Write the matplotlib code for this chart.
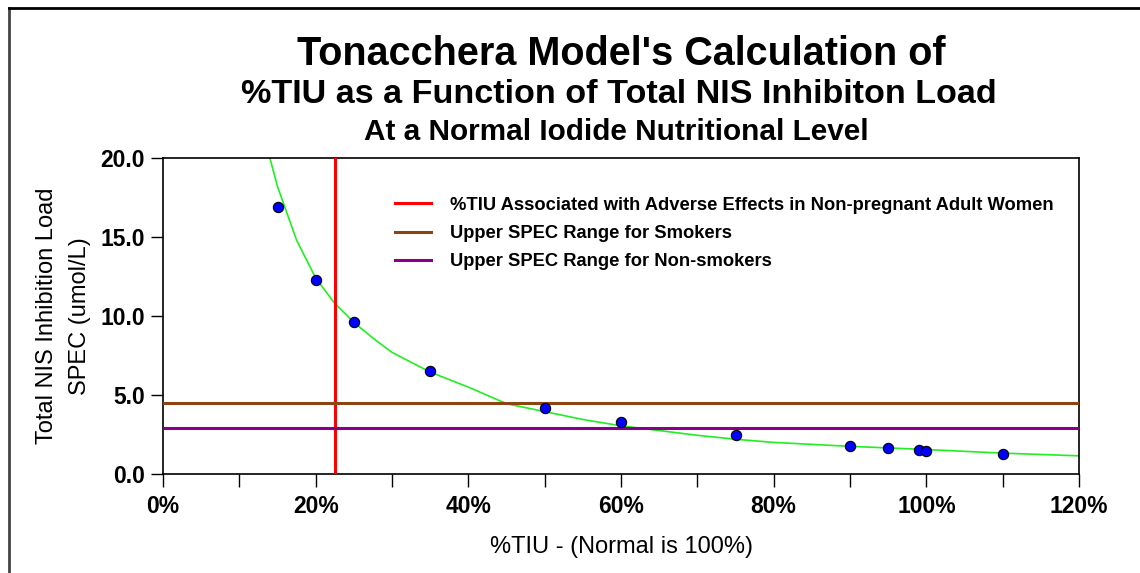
import matplotlib
matplotlib.use("Agg")
import matplotlib.pyplot as plt
from matplotlib.lines import Line2D
from matplotlib.ticker import FuncFormatter, MultipleLocator

# model points (%TIU, SPEC umol/L)
tiu_pts = [15, 20, 25, 35, 50, 60, 75, 90, 95, 99, 100, 110]
spec_pts = [16.9, 12.3, 9.65, 6.5, 4.2, 3.3, 2.45, 1.8, 1.65, 1.5, 1.45, 1.25]

# fitted curve
curve_x = [14, 15, 17.5, 20, 22.5, 25, 27.5, 30, 35, 40, 45, 50, 55, 60, 65, 70, 75, 80, 90, 100, 110, 120]
curve_y = [20.0, 18.2, 14.8, 12.4, 10.8, 9.6, 8.6, 7.7, 6.45, 5.5, 4.45, 3.95, 3.45, 3.05, 2.75, 2.45, 2.2, 2.0, 1.75, 1.55, 1.32, 1.15]

adverse_tiu = 22.5
smokers_spec = 4.5
nonsmokers_spec = 2.9

labels = ["%TIU Associated with Adverse Effects in Non-pregnant Adult Women",
          "Upper SPEC Range for Smokers",
          "Upper SPEC Range for Non-smokers"]
colors = ["#ff0000", "#8b4513", "#880088"]

plt.rcParams['font.family'] = ['Liberation Sans', 'DejaVu Sans']

fig = plt.figure(figsize=(11.4, 5.73), dpi=100)
ax = fig.add_axes([163/1140, 1-474/573, (1079-163)/1140, (474-158)/573])

ax.plot(curve_x, curve_y, color="#22ee22", lw=1.2, zorder=2)
ax.axvline(adverse_tiu, color=colors[0], lw=2.2, zorder=3)
ax.axhline(smokers_spec, color=colors[1], lw=2.2, zorder=3)
ax.axhline(nonsmokers_spec, color=colors[2], lw=2.2, zorder=3)
ax.scatter(tiu_pts, spec_pts, s=55, color="#0000ff", edgecolor="black", lw=0.8, zorder=4)

ax.set_xlim(0, 120)
ax.set_ylim(0, 20)
ax.xaxis.set_major_locator(MultipleLocator(20))
ax.xaxis.set_minor_locator(MultipleLocator(10))
ax.yaxis.set_major_locator(MultipleLocator(5))
ax.xaxis.set_major_formatter(FuncFormatter(lambda v, p: "%d%%" % v))
ax.yaxis.set_major_formatter(FuncFormatter(lambda v, p: "%.1f" % v))
ax.tick_params(which="both", direction="out", length=9, width=1, labelsize=16.5)
ax.tick_params(axis="x", pad=6)
ax.tick_params(axis="y", pad=4)
for lab in ax.get_xticklabels() + ax.get_yticklabels():
    lab.set_fontweight("bold")
for s in ax.spines.values():
    s.set_linewidth(1.2)

ax.set_xlabel("%TIU - (Normal is 100%)", fontsize=17, labelpad=13)
ax.set_ylabel("Total NIS Inhibition Load\nSPEC (umol/L)", fontsize=17, labelpad=7,
              linespacing=1.6)

handles = [Line2D([0], [0], color=c, lw=2.2) for c in colors]
leg = ax.legend(handles, labels, loc="upper left", bbox_to_anchor=(0.235, 0.93),
                frameon=False, prop={"weight": "bold", "size": 13.2},
                handlelength=2.0, labelspacing=0.62, handletextpad=1.0)

fig.text(0.545, 1-65/573, "Tonacchera Model's Calculation of", ha="center", va="baseline",
         fontsize=28.5, fontweight="bold")
fig.text(0.543, 1-103/573, "%TIU as a Function of Total NIS Inhibiton Load", ha="center", va="baseline",
         fontsize=24.6, fontweight="bold")
fig.text(0.541, 1-140/573, "At a Normal Iodide Nutritional Level", ha="center", va="baseline",
         fontsize=21.4, fontweight="bold")

# frame pieces on left and top
fig.add_artist(Line2D([9/1140, 9/1140], [0, 1-8/573], color="#444444", lw=2, transform=fig.transFigure))
fig.add_artist(Line2D([9/1140, 1], [1-8/573, 1-8/573], color="black", lw=2, transform=fig.transFigure))

fig.savefig("out.png", dpi=100)
